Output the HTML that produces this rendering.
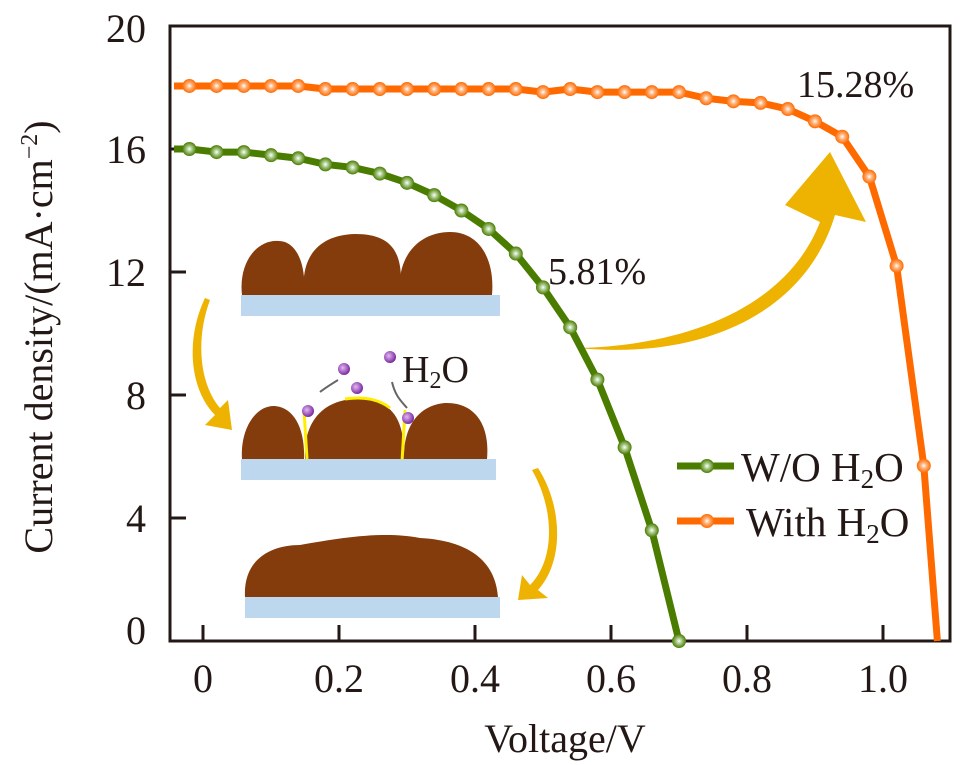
<!DOCTYPE html>
<html><head><meta charset="utf-8"><style>
html,body{margin:0;padding:0;background:#fff;}
svg{display:block;}
svg text{font-family:"Liberation Serif","Times New Roman",serif;}
</style></head><body>
<svg id="chart" width="967" height="765" viewBox="0 0 967 765">
<defs>
<radialGradient id="gG" cx="0.5" cy="0.5" r="0.5"><stop offset="0" stop-color="#ffffff"/><stop offset="0.4" stop-color="#a9c98a"/><stop offset="1" stop-color="#4a7c00"/></radialGradient>
<radialGradient id="gO" cx="0.5" cy="0.5" r="0.5"><stop offset="0" stop-color="#ffffff"/><stop offset="0.4" stop-color="#ffb27a"/><stop offset="1" stop-color="#ff6a00"/></radialGradient>
<radialGradient id="gP" cx="0.4" cy="0.4" r="0.6"><stop offset="0" stop-color="#e2b8f2"/><stop offset="1" stop-color="#7a2aa0"/></radialGradient>
</defs>
<g>
 <g>
  <path d="M242,295 C238,260 260,235 285,242 C300,248 306,270 304,295 Z" fill="#843c0c"/>
  <path d="M304,295 C300,255 320,235 355,234 C390,234 405,250 400,295 Z" fill="#843c0c"/>
  <path d="M400,295 C396,255 420,232 450,232 C480,232 495,260 492,295 Z" fill="#843c0c"/>
  <rect x="241" y="295" width="259" height="21" fill="#bdd7ee"/>
 </g>
 <g>
  <path d="M242,459 C240,430 255,405 275,406 C295,408 305,430 304,459 Z" fill="#843c0c"/>
  <path d="M305,459 C303,420 325,400 355,399 C385,399 405,410 404,459 Z" fill="#843c0c"/>
  <path d="M404,459 C403,425 420,405 445,403 C475,402 490,425 487,459 Z" fill="#843c0c"/>
  <path d="M304,410 L307,459 M405,410 L402,462 M345,399 C365,396 380,400 390,408" stroke="#ffee00" stroke-width="3" fill="none"/>
  <rect x="241" y="459" width="255" height="21" fill="#bdd7ee"/>
  <circle cx="344" cy="369" r="6" fill="url(#gP)"/><circle cx="390" cy="357" r="6" fill="url(#gP)"/>
  <circle cx="357" cy="388" r="6" fill="url(#gP)"/><circle cx="308" cy="411" r="6" fill="url(#gP)"/>
  <circle cx="408" cy="418" r="6" fill="url(#gP)"/>
  <path d="M338,380 C330,385 325,388 320,392 M392,382 C395,395 400,400 407,408" stroke="#666" stroke-width="2" fill="none"/>
  <text x="402" y="382" font-size="38" fill="#231815">H<tspan font-size="24" dy="6">2</tspan><tspan dy="-6">O</tspan></text>
 </g>
 <g>
  <path d="M245,597 C243,560 270,545 300,545 C330,540 380,530 420,538 C460,540 495,555 498,597 Z" fill="#843c0c"/>
  <rect x="245" y="597" width="255" height="21" fill="#bdd7ee"/>
 </g>
 <path d="M205,298 C185,340 190,390 215,415 L205,425 L232,430 L228,400 L220,408 C200,385 195,340 210,300 Z" fill="#eeb200"/>
 <path d="M532,470 C555,510 555,560 530,585 L522,575 L518,600 L548,598 L538,590 C565,560 562,505 538,468 Z" fill="#eeb200"/>
</g>
<path d="M578,348 C700,345 790,300 820,222 L785,205 L830,152 L866,222 L835,215 C805,315 700,360 578,348 Z" fill="#eeb200"/>
<text x="548" y="284" font-size="38" fill="#231815">5.81%</text>
<text x="797" y="97" font-size="38" fill="#231815">15.28%</text>
<g id="axes"></g>
<g id="series"></g>
<g>
 <g>
  <line x1="677" y1="466" x2="734" y2="466" stroke="#4a7c00" stroke-width="7"/>
  <circle cx="707" cy="466" r="7" fill="url(#gG)"/>
  <text x="741" y="481" font-size="41" fill="#231815">W/O H<tspan font-size="27" dy="7">2</tspan><tspan dy="-7">O</tspan></text>
 </g>
 <g>
  <line x1="677" y1="521" x2="734" y2="521" stroke="#ff6a00" stroke-width="7"/>
  <circle cx="707" cy="521" r="7" fill="url(#gO)"/>
  <text x="746" y="536" font-size="41" fill="#231815">With H<tspan font-size="27" dy="7">2</tspan><tspan dy="-7">O</tspan></text>
 </g>
</g>
<text x="565" y="752" font-size="40" text-anchor="middle" fill="#231815">Voltage/V</text>
<text transform="translate(52,337) rotate(-90)" font-size="40" text-anchor="middle" fill="#231815">Current density/(mA·cm<tspan font-size="24" dy="-15">−2</tspan><tspan dy="15">)</tspan></text>
</svg>
<script>
const voltsWO = [-0.02,0.02,0.06,0.10,0.14,0.18,0.22,0.26,0.30,0.34,0.38,0.42,0.46,0.50,0.54,0.58,0.62,0.66,0.70];
const currentWO = [16.0,15.9,15.9,15.8,15.7,15.5,15.4,15.2,14.9,14.5,14.0,13.4,12.6,11.5,10.2,8.5,6.3,3.6,0.0];
const voltsWith = [-0.02,0.02,0.06,0.10,0.14,0.18,0.22,0.26,0.30,0.34,0.38,0.42,0.46,0.50,0.54,0.58,0.62,0.66,0.70,0.74,0.78,0.82,0.86,0.90,0.94,0.98,1.02,1.06];
const currentWith = [18.05,18.05,18.05,18.05,18.05,17.95,17.95,17.95,17.95,17.95,17.95,17.95,17.95,17.85,17.95,17.85,17.85,17.85,17.85,17.65,17.55,17.5,17.3,16.9,16.4,15.1,12.2,5.7];
const withEndV = 1.08;
const xTicks = [0,0.2,0.4,0.6,0.8,1.0];
const xTickLabels = ["0","0.2","0.4","0.6","0.8","1.0"];
const yTicks = [0,4,8,12,16,20];
const yTickLabels = ["0","4","8","12","16","20"];
const NS="http://www.w3.org/2000/svg";
const X0=170,X1=950,Y0=641,Y1=26;
function xs(v){return 203+v*680;}
function ys(v){return 641-v*30.75;}
function mk(t,a,p){const e=document.createElementNS(NS,t);for(const k in a)e.setAttribute(k,a[k]);p.appendChild(e);return e;}
const ax=document.getElementById('axes');
const frame=mk('path',{d:`M${X0},${Y1} L${X1},${Y1} L${X1},${Y0} L${X0},${Y0} Z`,fill:'none',stroke:'#231815','stroke-width':3},ax);


xTicks.forEach((v,i)=>{
 const l=mk('line',{x1:xs(v),x2:xs(v),y1:Y0,y2:Y0-16,stroke:'#231815','stroke-width':3},ax);
 
 
 const t=mk('text',{x:xs(v),y:692,'font-size':40,'text-anchor':'middle',fill:'#231815'},ax);
 t.textContent=xTickLabels[i];
 
 
});
yTicks.forEach((v,i)=>{
 const l=mk('line',{x1:X0,x2:X0+16,y1:ys(v),y2:ys(v),stroke:'#231815','stroke-width':3},ax);
 
 
 const t=mk('text',{x:146,y:ys(v)+14-(v===0?11:0)+(v===20?2:0),'font-size':40,'text-anchor':'end',fill:'#231815'},ax);
 t.textContent=yTickLabels[i];
 
 
});
const sg=document.getElementById('series');
function series(vs,cs,extra,color,grad,name){
 const g=mk('g',{},sg);
 
 
 let pts=vs.map((v,i)=>[xs(v),ys(cs[i])]);
 let lp=pts.slice(); if(extra!==null) lp.push([xs(extra),ys(0)]);
 lp.unshift([X0+4,ys(cs[0])]);
 const pl=mk('polyline',{points:lp.map(p=>p.join(',')).join(' '),fill:'none',stroke:color,'stroke-width':7,'stroke-linejoin':'round'},g);
 
 
 pts.forEach(p=>{
  const c=mk('circle',{cx:p[0],cy:p[1],r:7,fill:`url(#${grad})`},g);
  
  
 });
}
series(voltsWith,currentWith,withEndV,'#ff6a00','gO','series-with-h2o');
series(voltsWO,currentWO,null,'#4a7c00','gG','series-wo-h2o');
</script>
</body></html>
